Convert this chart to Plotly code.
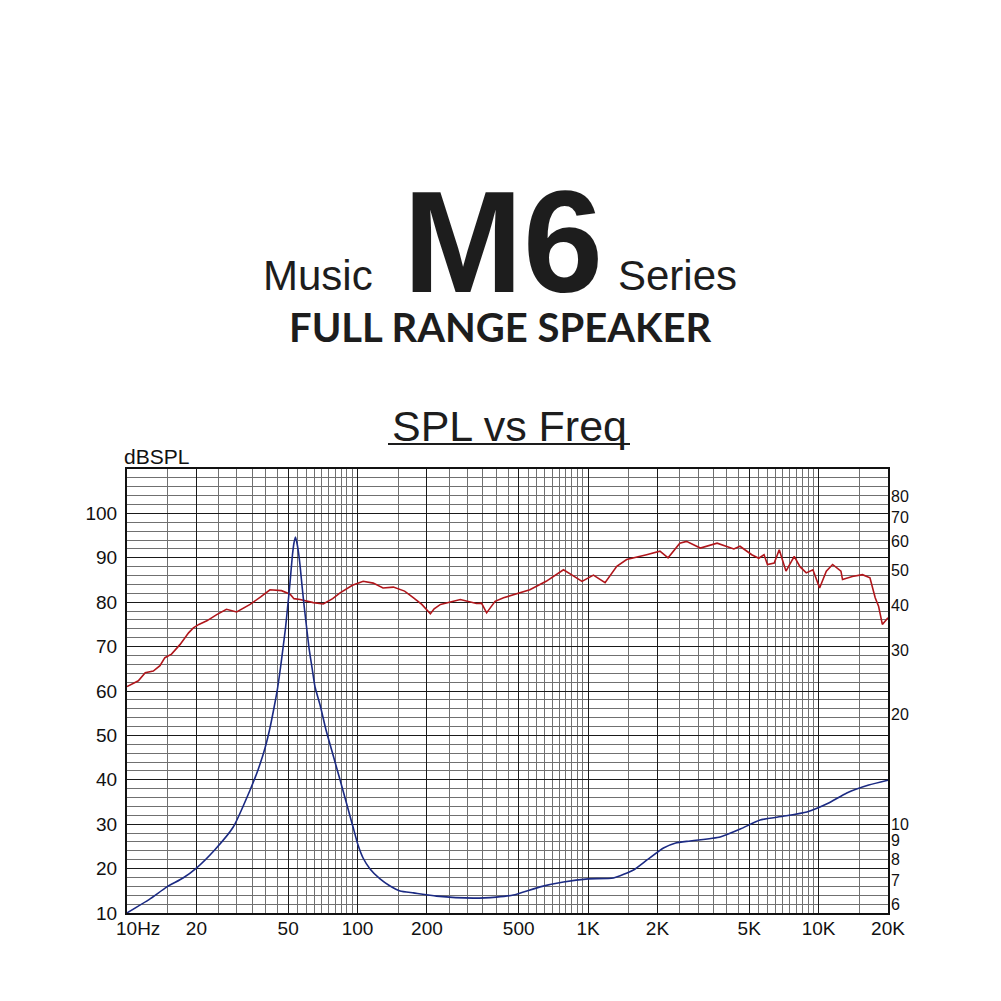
import numpy as np
import plotly.graph_objects as go

# ---------------- data ----------------
spl_freq = [10, 11.2, 12.0, 13.0, 13.9, 14.6, 15.6, 17.0, 18.5, 19.4, 20.5, 22.2, 24.5, 27.0,
            29.9, 34.2, 38, 41.7, 46.8, 51, 53, 56.3, 64.3, 71.0, 78, 84.0, 95, 105.8, 117,
            129, 143, 160, 175, 190, 207, 215, 229, 279, 328, 345, 363, 395, 430, 474, 559,
            658, 782, 860, 941, 1055, 1185, 1332, 1470, 1794, 2050, 2224, 2415, 2500, 2672,
            3069, 3628, 4289, 4560, 5130, 5500, 5800, 6000, 6420, 6750, 7220, 7840, 8300,
            8840, 9450, 10100, 10800, 11500, 12500, 12700, 14000, 15500, 16700, 17600,
            18200, 18900, 20000]
spl_db = [61.0, 62.3, 64.1, 64.5, 65.7, 67.5, 68.3, 70.5, 73.1, 74.2, 75.0, 75.8, 77.2, 78.4,
          77.8, 79.5, 81.2, 82.8, 82.6, 81.8, 80.8, 80.6, 79.9, 79.6, 80.8, 82.1, 83.8, 84.7, 84.3,
          83.2, 83.4, 82.5, 81.0, 79.5, 77.4, 78.5, 79.5, 80.6, 79.7, 79.8, 77.6, 80.2, 81.0, 81.7, 82.8,
          84.7, 87.3, 86.0, 84.7, 86.1, 84.4, 88.1, 89.6, 90.7, 91.5, 90.0, 92.2, 93.3, 93.7,
          92.2, 93.3, 92.0, 92.6, 90.7, 89.9, 90.7, 88.5, 88.8, 91.8, 87.0, 90.3, 88.0,
          86.6, 87.3, 83.2, 87.0, 88.5, 87.0, 85.1, 85.8, 86.2, 85.5, 81.0,
          79.1, 75.0, 76.5]

imp_freq = [10, 12.5, 14.9, 17.5, 20, 24, 28.9, 34.2, 37.0, 39.7, 41.7, 43.4, 45.0, 46.3,
            47.5, 48.7, 49.7, 50.7, 51.5, 52.2, 53.0, 53.8, 54.6, 55.5, 56.3, 57.4, 58.6,
            60.1, 61.6, 63.5, 65.4, 68.8, 73.0, 78.3, 84.0, 90.0, 95.6, 100.5, 105.7, 113.3,
            125.2, 138.4, 152.9, 175, 220, 318, 400, 474, 619, 782, 1000, 1288, 1574, 1800,
            2124, 2400, 2771, 3741, 4600, 5574, 7000, 8892, 11000, 13250, 16500, 20000]
imp_ohm = [5.69, 6.2, 6.71, 7.1, 7.56, 8.48, 9.81, 12.41, 14.09, 16.20, 18.38, 20.87, 23.69,
           26.90, 30.53, 34.67, 39.36, 44.68, 50.09, 55.08, 59.44, 61.75, 59.44, 55.79, 51.71,
           45.54, 40.11, 34.89, 30.53, 26.90, 23.84, 21.27, 18.15, 15.49, 13.22, 11.28, 9.81,
           8.75, 8.06, 7.52, 7.06, 6.75, 6.54, 6.46, 6.33, 6.25, 6.29, 6.37, 6.71, 6.92, 7.06,
           7.10, 7.47, 7.96, 8.59, 8.87, 8.98, 9.21, 9.7, 10.26, 10.5, 10.79, 11.4, 12.17,
           12.8, 13.2]

x_tick_vals = [10, 20, 50, 100, 200, 500, 1000, 2000, 5000, 10000, 20000]
x_tick_text = ["", "20", "50", "100", "200", "500", "1K", "2K", "5K", "10K", "20K"]
x_first_label = "10Hz"
y_tick_vals = [10, 20, 30, 40, 50, 60, 70, 80, 90, 100]
imp_tick_vals = [6, 7, 8, 9, 10, 20, 30, 40, 50, 60, 70, 80]

# minor vertical grid: every half unit inside each decade
x_minor = []
for d in [10, 100, 1000, 10000]:
    for k in np.arange(1.0, 10.0, 0.5):
        v = d * k
        if v <= 20000 and v not in x_tick_vals:
            x_minor.append(float(v))

W = H = 1001
x0, x1 = 127, 888
ytop, ybot = 469, 913

fig = go.Figure()
fig.add_trace(go.Scatter(x=spl_freq, y=spl_db, mode="lines",
                         line=dict(color="#b0161b", width=1.6), xaxis="x", yaxis="y",
                         showlegend=False, hoverinfo="skip"))
fig.add_trace(go.Scatter(x=imp_freq, y=imp_ohm, mode="lines",
                         line=dict(color="#1b2a83", width=1.6, shape="spline", smoothing=0.5),
                         xaxis="x", yaxis="y2", showlegend=False, hoverinfo="skip"))

tickfont = dict(family="Liberation Sans, Arial", size=19, color="#111")
fig.update_layout(
    width=W, height=H, margin=dict(l=0, r=0, t=0, b=0, autoexpand=False),
    paper_bgcolor="white", plot_bgcolor="white",
    xaxis=dict(type="log", range=[1, np.log10(20000)], automargin=False,
               domain=[x0 / W, x1 / W],
               tickmode="array", tickvals=x_tick_vals, ticktext=x_tick_text,
               tickfont=tickfont, ticks="", ticklabelstandoff=-3,
               showgrid=True, gridcolor="#1a1a1a", gridwidth=1.4,
               minor=dict(tickmode="array", tickvals=x_minor, showgrid=True,
                          gridcolor="#707070", gridwidth=1),
               showline=True, linecolor="#111", linewidth=2, mirror=True,
               zeroline=False),
    yaxis=dict(range=[10, 110], domain=[(H - ybot) / H, (H - ytop) / H], automargin=False,
               tickmode="array", tickvals=y_tick_vals, tickfont=tickfont, ticks="",
               ticklabelstandoff=4,
               showgrid=True, gridcolor="#1a1a1a", gridwidth=1.4,
               minor=dict(dtick=2, tick0=10, showgrid=True, gridcolor="#707070", gridwidth=1),
               showline=True, linecolor="#111", linewidth=2, mirror=True,
               zeroline=False),
    yaxis2=dict(type="log", overlaying="y", side="right", automargin=False,
                range=[0.7548, 1.978],
                tickmode="array", tickvals=imp_tick_vals,
                ticktext=[str(v) for v in imp_tick_vals],
                tickfont=dict(family="Liberation Sans, Arial", size=16, color="#111"),
                ticks="", ticklabelstandoff=2, showgrid=False, zeroline=False,
                showline=False),
)

ann = []
ann.append(dict(text="<b>M6</b>", x=503 / W, y=1 - 242 / H, xref="paper", yref="paper",
                showarrow=False, font=dict(family="Liberation Sans, Arial", size=144, color="#1d1d1d"),
                xanchor="center", yanchor="middle"))
ann.append(dict(text="Music", x=318 / W, y=1 - 275 / H, xref="paper", yref="paper",
                showarrow=False, font=dict(family="Liberation Sans, Arial", size=42, color="#1d1d1d"),
                xanchor="center", yanchor="middle"))
ann.append(dict(text="Series", x=677 / W, y=1 - 275 / H, xref="paper", yref="paper",
                showarrow=False, font=dict(family="Liberation Sans, Arial", size=42, color="#1d1d1d"),
                xanchor="center", yanchor="middle"))
ann.append(dict(text="<b>FULL RANGE SPEAKER</b>", x=500 / W, y=1 - 327 / H, xref="paper", yref="paper",
                showarrow=False, font=dict(family="Lato, Noto Sans", size=40, color="#1d1d1d"),
                xanchor="center", yanchor="middle"))
ann.append(dict(text="SPL vs Freq", x=509 / W, y=1 - 426 / H, xref="paper", yref="paper",
                showarrow=False, font=dict(family="Liberation Sans, Arial", size=43, color="#1d1d1d"),
                xanchor="center", yanchor="middle"))
ann.append(dict(text="dBSPL", x=122 / W, y=1 - 456 / H, xref="paper", yref="paper",
                showarrow=False, font=dict(family="Liberation Sans, Arial", size=21, color="#111"),
                xanchor="left", yanchor="middle"))
ann.append(dict(text=x_first_label, x=114 / W, y=1 - 928 / H, xref="paper", yref="paper",
                showarrow=False, font=tickfont, xanchor="left", yanchor="middle"))
fig.update_layout(annotations=ann)

fig.add_shape(type="line", xref="paper", yref="paper",
              x0=388 / W, x1=630 / W, y0=1 - 444 / H, y1=1 - 444 / H,
              line=dict(color="#1d1d1d", width=2))

fig.write_html("out.html", config={"displayModeBar": False},
               post_script="document.body.style.margin='0px';document.body.style.overflow='hidden';")
